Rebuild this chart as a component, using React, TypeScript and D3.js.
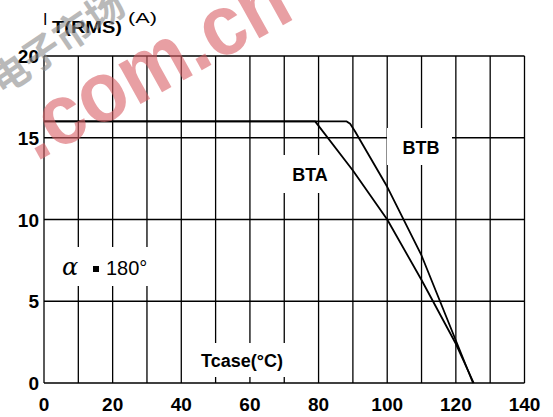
import React from "react";
import * as d3 from "d3";

const xTicks = [0, 20, 40, 60, 80, 100, 120, 140];
const yTicks = [0, 5, 10, 15, 20];
const xGrid = [0, 10, 20, 30, 40, 50, 60, 70, 80, 90, 100, 110, 120, 130, 140];
const yGrid = [0, 5, 10, 15, 20];

const btaT = [0, 79, 90, 100, 110, 120, 125.2];
const btaI = [16, 16, 13, 10, 6.3, 2.4, 0];
const btbT = [0, 88.2, 89.2, 90.6, 100, 110, 120, 125];
const btbI = [16, 16, 15.85, 15.4, 12, 7.8, 2.6, 0];

const W = 553;
const H = 417;
const FONT = "'Liberation Sans', Arial, Helvetica, sans-serif";

export default function App() {
  const x = d3.scaleLinear().domain([0, 140]).range([44, 524.5]);
  const y = d3.scaleLinear().domain([0, 20]).range([383, 56]);
  const line = d3
    .line<[number, number]>()
    .x((d) => x(d[0]))
    .y((d) => y(d[1]));
  const bta = btaT.map((t, i) => [t, btaI[i]] as [number, number]);
  const btb = btbT.map((t, i) => [t, btbI[i]] as [number, number]);

  return (
    <svg
      width={W}
      height={H}
      style={{ position: "absolute", left: 0, top: 0, background: "#fff" }}
      fontFamily={FONT}
    >
      <rect x={0} y={0} width={W} height={H} fill="#fff" />
      {/* grid */}
      <g stroke="#000" strokeWidth={1.3}>
        {xGrid.map((v) => (
          <line key={"vx" + v} x1={x(v)} x2={x(v)} y1={y(0)} y2={y(20)} />
        ))}
        {yGrid.map((v) => (
          <line key={"hy" + v} x1={x(0)} x2={x(140)} y1={y(v)} y2={y(v)} />
        ))}
      </g>
      {/* curves */}
      <g fill="none" stroke="#000" strokeWidth={1.8} strokeLinejoin="round">
        <path d={line(bta) || ""} />
        <path d={line(btb) || ""} />
      </g>
      {/* label boxes */}
      <g fill="#fff">
        <rect x={281} y={155} width={58} height={38} />
        <rect x={387} y={128} width={65} height={37} />
        <rect x={55} y={247} width={100} height={39} />
        <rect x={190} y={343} width={105} height={34} />
      </g>
      <g fill="#000" fontWeight="bold">
        <text x={310} y={181} fontSize={18} textAnchor="middle">
          BTA
        </text>
        <text x={421} y={154} fontSize={18} textAnchor="middle">
          BTB
        </text>
        <text x={242} y={367} fontSize={18} textAnchor="middle">
          Tcase(°C)
        </text>
      </g>
      <g fill="#000">
        <text x={62} y={275} fontSize={24} fontStyle="italic" fontFamily="'DejaVu Serif', serif">
          α
        </text>
        <rect x={93} y={266} width={6} height={6} />
        <text x={106} y={275} fontSize={20}>
          180°
        </text>
      </g>
      {/* y tick labels */}
      <g fill="#000" fontWeight="bold" fontSize={19} textAnchor="end">
        {yTicks.map((v) => (
          <text key={"yt" + v} x={39} y={y(v) + 7}>
            {v}
          </text>
        ))}
      </g>
      {/* x tick labels */}
      <g fill="#000" fontWeight="bold" fontSize={19} textAnchor="middle">
        {xTicks.map((v) => (
          <text key={"xt" + v} x={x(v)} y={411}>
            {v}
          </text>
        ))}
      </g>
      {/* y axis title */}
      <g fill="#000">
        <text x={43} y={25} fontSize={16}>
          I
        </text>
        <text x={52} y={33} fontSize={16} fontWeight="bold" textLength={70} lengthAdjust="spacingAndGlyphs">
          T(RMS)
        </text>
        <text x={128} y={23} fontSize={15} textLength={29} lengthAdjust="spacingAndGlyphs">
          (A)
        </text>
      </g>
      {/* watermark (on top, semi-transparent) */}
      <text
        x={2}
        y={96}
        transform="rotate(-34 2 96)"
        fontSize={38}
        fontWeight="bold"
        fill="#8c8c8c"
        opacity={0.6}
        fontFamily="'Noto Sans CJK SC', sans-serif"
      >
        电子市场
      </text>
      <text
        x={36}
        y={162}
        transform="rotate(-29 36 162)"
        fontSize={86}
        fontWeight="bold"
        fill="#d96167"
        opacity={0.6}
        textLength={298}
        lengthAdjust="spacingAndGlyphs"
        fontFamily={FONT}
      >
        .com.cn
      </text>
    </svg>
  );
}
